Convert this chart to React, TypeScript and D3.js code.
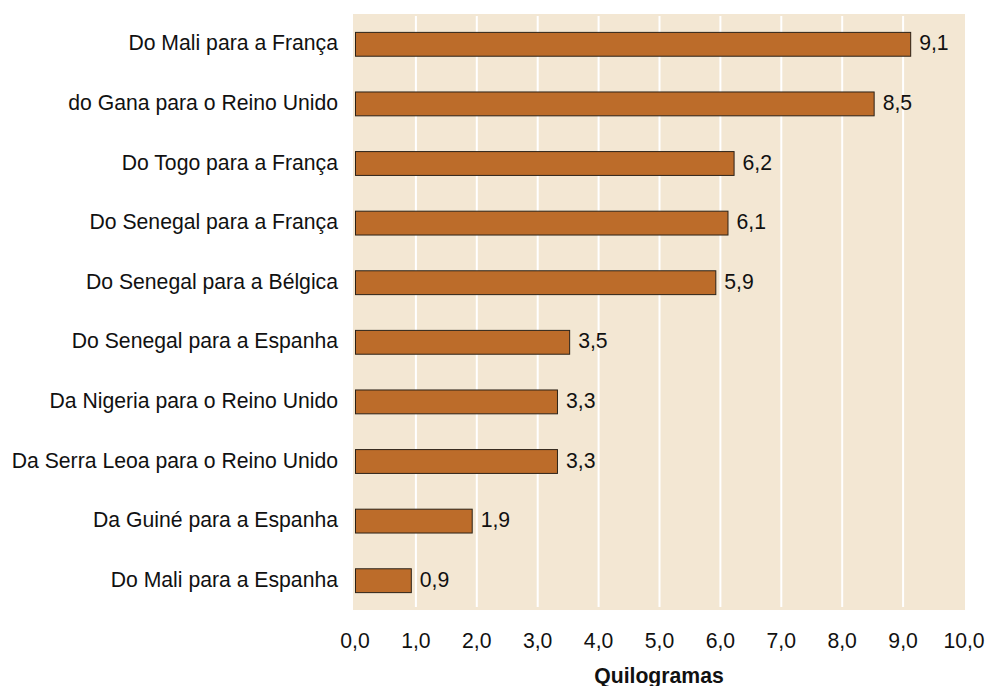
import { useEffect, useRef } from 'react';
import * as d3 from 'd3';

const categories = [
  'Do Mali para a França',
  'do Gana para o Reino Unido',
  'Do Togo para a França',
  'Do Senegal para a França',
  'Do Senegal para a Bélgica',
  'Do Senegal para a Espanha',
  'Da Nigeria para o Reino Unido',
  'Da Serra Leoa para o Reino Unido',
  'Da Guiné para a Espanha',
  'Do Mali para a Espanha',
];
const values = [9.1, 8.5, 6.2, 6.1, 5.9, 3.5, 3.3, 3.3, 1.9, 0.9];
const xTicks = [0, 1, 2, 3, 4, 5, 6, 7, 8, 9, 10];
const axisTitle = 'Quilogramas';

const fmt = (v: number) => v.toFixed(1).replace('.', ',');

export default function App() {
  const ref = useRef<SVGSVGElement>(null);

  useEffect(() => {
    if (!ref.current) return;
    const svg = d3.select(ref.current);
    svg.selectAll('*').remove();

    const width = 986;
    const height = 686;
    const font = "'Liberation Sans', Arial, sans-serif";
    const fs = 21.2;

    // plot area
    const left = 353;
    const right = 965;
    const top = 14;
    const bottom = 610;

    const x = d3.scaleLinear().domain([0, 10]).range([355, 964]);
    const y = d3
      .scaleBand()
      .domain(categories)
      .range([top, bottom])
      .paddingInner(0.6)
      .paddingOuter(0.3);

    svg.attr('width', width).attr('height', height);

    svg
      .append('rect')
      .attr('x', left)
      .attr('y', top)
      .attr('width', right - left)
      .attr('height', bottom - top)
      .attr('fill', '#f3e7d3');

    // gridlines
    svg
      .selectAll('line.grid')
      .data(xTicks.slice(1, -1))
      .enter()
      .append('line')
      .attr('class', 'grid')
      .attr('x1', (d) => x(d))
      .attr('x2', (d) => x(d))
      .attr('y1', top + 2)
      .attr('y2', bottom - 3)
      .attr('stroke', '#ffffff')
      .attr('stroke-width', 2);

    const data = categories.map((c, i) => ({ name: c, value: values[i] }));

    svg
      .selectAll('rect.bar')
      .data(data)
      .enter()
      .append('rect')
      .attr('class', 'bar')
      .attr('x', x(0) + 0.5)
      .attr('y', (d) => y(d.name)! + 0.5)
      .attr('width', (d) => x(d.value) - x(0) + 1)
      .attr('height', y.bandwidth())
      .attr('fill', '#bc6c2a')
      .attr('stroke', '#2b2218')
      .attr('stroke-width', 1);

    // value labels
    svg
      .selectAll('text.val')
      .data(data)
      .enter()
      .append('text')
      .attr('class', 'val')
      .attr('x', (d) => x(d.value) + 10)
      .attr('y', (d) => y(d.name)! + y.bandwidth() / 2 + 1)
      .attr('dominant-baseline', 'middle')
      .attr('font-family', font)
      .attr('font-size', fs)
      .attr('fill', '#111')
      .text((d) => fmt(d.value));

    // category labels
    svg
      .selectAll('text.cat')
      .data(categories)
      .enter()
      .append('text')
      .attr('class', 'cat')
      .attr('x', 338)
      .attr('y', (d) => y(d)! + y.bandwidth() / 2 + 1)
      .attr('text-anchor', 'end')
      .attr('dominant-baseline', 'middle')
      .attr('font-family', font)
      .attr('font-size', fs)
      .attr('fill', '#111')
      .text((d) => d);

    // x tick labels
    svg
      .selectAll('text.tick')
      .data(xTicks)
      .enter()
      .append('text')
      .attr('class', 'tick')
      .attr('x', (d) => x(d))
      .attr('y', 648)
      .attr('text-anchor', 'middle')
      .attr('font-family', font)
      .attr('font-size', fs)
      .attr('fill', '#111')
      .text((d) => fmt(d));

    svg
      .append('text')
      .attr('x', (left + right) / 2)
      .attr('y', 683)
      .attr('text-anchor', 'middle')
      .attr('font-family', font)
      .attr('font-size', fs)
      .attr('font-weight', 'bold')
      .attr('fill', '#111')
      .text(axisTitle);
  }, []);

  return (
    <svg
      ref={ref}
      style={{ position: 'absolute', left: 0, top: 0, display: 'block' }}
    />
  );
}
